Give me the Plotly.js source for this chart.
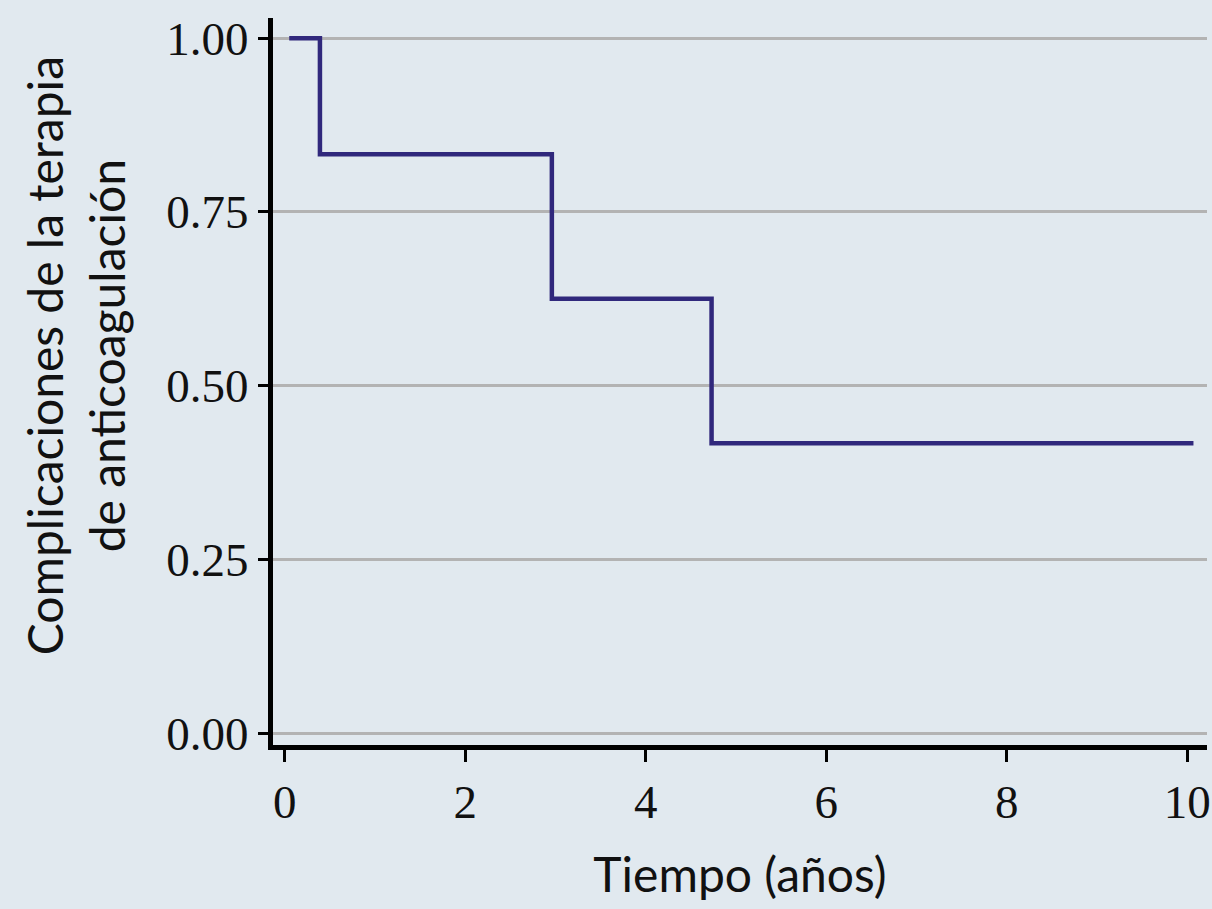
<!DOCTYPE html>
<html>
<head>
<meta charset="utf-8">
<script src="https://cdn.plot.ly/plotly-3.0.1.min.js"></script>
<style>
  body { margin: 0; background: #e1e9ef; }
  #plotArea { width: 1212px; height: 909px; }
</style>
</head>
<body>
<div id="plotArea"></div>
<script>
// Kaplan-Meier step curve
var tiempo = [0.05, 0.39, 2.96, 4.73, 10.07];
var supervivencia = [1.0, 0.833, 0.625, 0.417, 0.417];

var xTicks = [0, 2, 4, 6, 8, 10];
var yTicks = [0, 0.25, 0.5, 0.75, 1];

var trace = {
    x: tiempo,
    y: supervivencia,
    mode: 'lines',
    type: 'scatter',
    line: {shape: 'hv', color: '#30287c', width: 4.5},
    hoverinfo: 'none'
};

var tickFont = {family: 'Liberation Serif, serif', size: 47, color: '#111'};
var titleFont = {family: 'Lato, sans-serif', size: 48, color: '#111'};

var layout = {
    paper_bgcolor: '#e1e9ef',
    plot_bgcolor: '#e1e9ef',
    showlegend: false,
    margin: {l: 273, r: 5, t: 18, b: 164},
    xaxis: {
        range: [-0.13, 10.22],
        tickvals: xTicks,
        ticktext: xTicks.map(String),
        showgrid: false,
        zeroline: false,
        showline: true,
        linecolor: '#000',
        linewidth: 5,
        ticks: 'outside',
        ticklen: 12,
        tickwidth: 3,
        tickcolor: '#000',
        tickfont: tickFont,
        title: {text: 'Tiempo (años)', font: titleFont, standoff: 32}
    },
    yaxis: {
        range: [-0.017, 1.029],
        tickvals: yTicks,
        tickformat: '.2f',
        showgrid: true,
        gridcolor: '#b3b3b3',
        gridwidth: 3,
        zeroline: false,
        showline: true,
        linecolor: '#000',
        linewidth: 5,
        ticks: 'outside',
        ticklen: 10,
        tickwidth: 3,
        tickcolor: '#000',
        tickfont: tickFont
    },
    // y title placed as an annotation so it can sit slightly above the panel centre
    annotations: [{
        text: 'Complicaciones de la terapia<br>de anticoagulación',
        font: titleFont,
        textangle: -90,
        xref: 'paper', yref: 'paper',
        x: -0.212, y: 0.536,
        xanchor: 'center', yanchor: 'middle',
        showarrow: false
    }]
};

Plotly.newPlot('plotArea', [trace], layout, {displayModeBar: false, staticPlot: true});
</script>
</body>
</html>
